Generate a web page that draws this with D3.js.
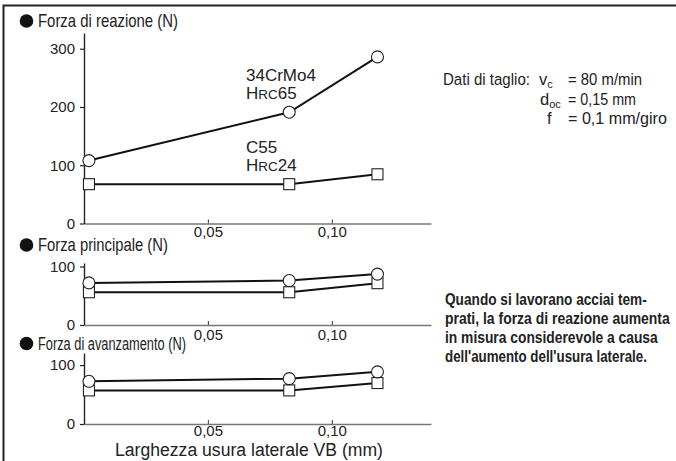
<!DOCTYPE html>
<html><head><meta charset="utf-8">
<script src="https://cdn.jsdelivr.net/npm/d3@7"></script>
<style>
html,body{margin:0;padding:0;background:#fff;}
svg{display:block;}
</style></head>
<body>
<svg id="c" width="676" height="461"></svg>
<script>
// ---- data ----
const wearVB = [0.002, 0.0828, 0.1184];
const reaction34CrMo4 = [108, 191, 286];
const reactionC55 = [67.5, 67.5, 84.5];
const main34CrMo4 = [72, 76, 87];
const mainC55 = [56, 56, 71.5];
const feed34CrMo4 = [72.5, 77, 88.5];
const feedC55 = [57, 57, 69.5];
const xTickValues = [0.05, 0.10];
const xTickLabels = ["0,05", "0,10"];
const yTicksReaction = [0, 100, 200, 300];
const yTicksSmall = [0, 100];
const panelTitles = ["Forza di reazione (N)", "Forza principale (N)", "Forza di avanzamento (N)"];
const xAxisTitle = "Larghezza usura laterale VB (mm)";
const noteLines = ["Quando si lavorano acciai tem-", "prati, la forza di reazione aumenta", "in misura considerevole a causa", "dell'aumento dell'usura laterale."];

const svg = d3.select("#c");
const SANS = "'Liberation Sans', Arial, Helvetica, sans-serif";

// helper: text squeezed horizontally to a target width (condensed look)
function squeezed(parent, x0, y0, str, size, width, weight) {
  const t = parent.append("text").attr("x", 0).attr("y", 0)
    .attr("font-family", SANS).attr("font-size", size).attr("font-weight", weight || "normal")
    .attr("fill", "#222").text(str);
  const w = t.node().getComputedTextLength();
  const sx = Math.min(1, width / w);
  t.attr("transform", `translate(${x0},${y0}) scale(${sx},1)`);
  return t;
}

// frame (top + left)
svg.append("path").attr("d", "M3.5,461V5.5H676").attr("fill", "none").attr("stroke", "#222").attr("stroke-width", 2);

const x = d3.scaleLinear().domain([0, 0.14]).range([84, 431]);

const panels = [
  {title: panelTitles[0], zero: 223.5, top: 33, max: 327, ticks: yTicksReaction, a: reaction34CrMo4, b: reactionC55, titleY: 21, pad: 3},
  {title: panelTitles[1], zero: 325, top: 263, max: 106, ticks: yTicksSmall, a: main34CrMo4, b: mainC55, titleY: 245, pad: 4},
  {title: panelTitles[2], zero: 424, top: 353, max: 120.5, ticks: yTicksSmall, a: feed34CrMo4, b: feedC55, titleY: 343.5, pad: 1}
];
const titleWidths = [140, 130, 148];

panels.forEach((p, i) => {
  const y = d3.scaleLinear().domain([0, p.max]).range([p.zero, p.top]);
  const g = svg.append("g");

  // x axis
  const xa = g.append("g").attr("transform", `translate(0,${p.zero})`)
    .call(d3.axisBottom(x).tickValues(xTickValues).tickFormat((d, k) => xTickLabels[k]).tickSizeInner(-4).tickSizeOuter(0).tickPadding(p.pad));
  xa.select(".domain").attr("stroke", "#777").attr("stroke-width", 1.6);
  xa.selectAll(".tick line").attr("stroke", "#555").attr("stroke-width", 1.2);
  xa.selectAll("text").attr("font-family", SANS).attr("font-size", 15).attr("fill", "#222");

  // y axis
  const ya = g.append("g").attr("transform", `translate(84,0)`)
    .call(d3.axisLeft(y).tickValues(p.ticks).tickSizeInner(4).tickSizeOuter(0).tickPadding(5));
  ya.select(".domain").attr("stroke", "#222").attr("stroke-width", 1.4);
  ya.selectAll(".tick line").attr("stroke", "#222").attr("stroke-width", 1.2);
  ya.selectAll("text").attr("font-family", SANS).attr("font-size", 15).attr("fill", "#222");

  const line = d3.line().x((d, k) => x(wearVB[k])).y(d => y(d));
  [p.a, p.b].forEach(s => {
    g.append("path").datum(s).attr("d", line).attr("fill", "none").attr("stroke", "#111").attr("stroke-width", 2);
  });
  g.selectAll("rect.m").data(p.b).join("rect").attr("class", "m")
    .attr("x", (d, k) => x(wearVB[k]) - 5.5).attr("y", d => y(d) - 5.5)
    .attr("width", 11).attr("height", 11).attr("fill", "#fff").attr("stroke", "#222").attr("stroke-width", 1.1);
  g.selectAll("circle.m").data(p.a).join("circle").attr("class", "m")
    .attr("cx", (d, k) => x(wearVB[k])).attr("cy", d => y(d)).attr("r", 6)
    .attr("fill", "#fff").attr("stroke", "#222").attr("stroke-width", 1.1);

  // panel title
  svg.append("circle").attr("cx", 26.5).attr("cy", p.titleY).attr("r", 6.8).attr("fill", "#111");
  squeezed(svg, 38, p.titleY + 6.2, p.title, 17.5, titleWidths[i]);
});

// material labels
function hrc(yb, num) {
  const t = svg.append("text").attr("x", 246).attr("y", yb).attr("font-family", SANS).attr("font-size", 17).attr("fill", "#222");
  t.append("tspan").text("H");
  t.append("tspan").attr("font-size", 13.5).text("RC");
  t.append("tspan").text(num);
}
svg.append("text").attr("x", 246).attr("y", 81).attr("font-family", SANS).attr("font-size", 17).attr("fill", "#222").text("34CrMo4");
hrc(99, "65");
svg.append("text").attr("x", 246).attr("y", 153).attr("font-family", SANS).attr("font-size", 17).attr("fill", "#222").text("C55");
hrc(171, "24");

// cutting data
const cd = svg.append("g");
squeezed(cd, 443, 85, "Dati di taglio:", 17, 87);
const v = cd.append("text").attr("x", 539).attr("y", 85).attr("font-family", SANS).attr("font-size", 16.5).attr("fill", "#222");
v.append("tspan").text("v");
v.append("tspan").attr("font-size", 11).attr("dy", 3).text("c");
const dd = cd.append("text").attr("x", 540).attr("y", 104.5).attr("font-family", SANS).attr("font-size", 16.5).attr("fill", "#222");
dd.append("tspan").text("d");
dd.append("tspan").attr("font-size", 11).attr("dy", 3).text("oc");
cd.append("text").attr("x", 547).attr("y", 123.5).attr("font-family", SANS).attr("font-size", 16.5).attr("fill", "#222").text("f");
squeezed(cd, 568, 85, "= 80 m/min", 17, 74);
squeezed(cd, 568, 104.5, "= 0,15 mm", 17, 68);
squeezed(cd, 568, 123.5, "= 0,1 mm/giro", 17, 99);

// note
const noteW = [202, 225, 213, 202];
noteLines.forEach((s, k) => {
  squeezed(svg, 445, 305 + k * 19, s, 16, noteW[k], "bold");
});

// x axis title
svg.append("text").attr("x", 249).attr("y", 455.5).attr("text-anchor", "middle").attr("font-family", SANS)
  .attr("font-size", 17.6).attr("fill", "#222").text(xAxisTitle);
</script>
</body></html>
